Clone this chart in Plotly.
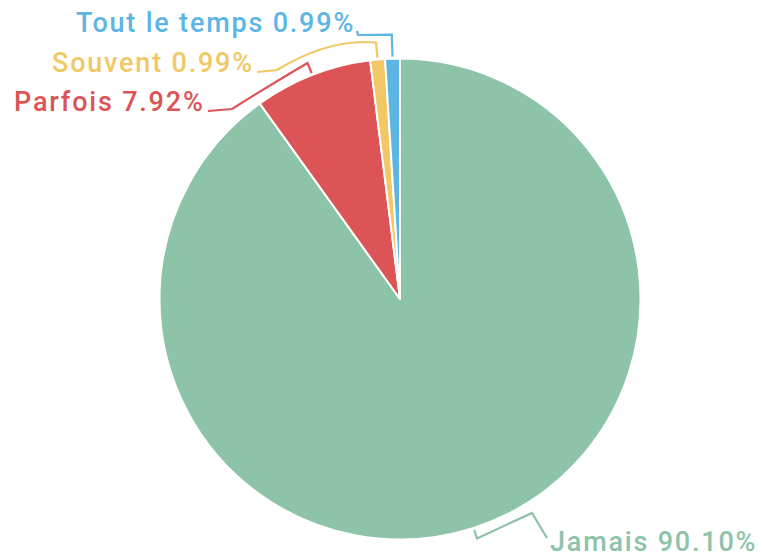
import math
import plotly.graph_objects as go

# data
labels = ["Jamais", "Parfois", "Souvent", "Tout le temps"]
counts = [91, 8, 1, 1]
colors = ["#8dc3a8", "#dc5456", "#f1c865", "#5db5e4"]

W, H = 762, 559
cx, cy, R = 400, 299, 240.5

# leader line / label placement (pixels): radial stub, bends, label anchor
label_layout = {
    "Jamais": dict(stub=9, bends="L 532 513 L 547 538", tx=548, ty=542, anchor="left"),
    "Parfois": dict(stub=11, bends="Q 275 82 232 109 L 208 111", tx=207, ty=102, anchor="right"),
    "Souvent": dict(stub=15, bends="Q 330 38 277 70 L 257 72", tx=256, ty=63, anchor="right"),
    "Tout le temps": dict(stub=22, bends="L 358 35 L 357 31", tx=357, ty=23, anchor="right"),
}

total = sum(counts)
pcts = [c / total * 100 for c in counts]

fig = go.Figure()
fig.add_trace(go.Pie(
    labels=labels, values=counts, sort=False, direction="clockwise", rotation=0,
    marker=dict(colors=colors, line=dict(color="white", width=2)),
    textinfo="none", hoverinfo="label+percent",
    domain=dict(x=[(cx - R) / W, (cx + R) / W], y=[1 - (cy + R) / H, 1 - (cy - R) / H]),
))


def to_paper(path):
    # convert a pixel svg path into paper coords
    out = []
    toks = path.split()
    i = 0
    while i < len(toks):
        t = toks[i]
        if t.isalpha():
            out.append(t)
            i += 1
        else:
            x, y = float(toks[i]), float(toks[i + 1])
            out.append(f"{x / W:.5f},{1 - y / H:.5f}")
            i += 2
    return " ".join(out)


start = 0.0
for lab, pct, col in zip(labels, pcts, colors):
    mid = math.radians((start + pct / 2) * 3.6)
    start += pct
    lay = label_layout[lab]
    x0, y0 = cx + (R + 2) * math.sin(mid), cy - (R + 2) * math.cos(mid)
    x1, y1 = cx + (R + 2 + lay["stub"]) * math.sin(mid), cy - (R + 2 + lay["stub"]) * math.cos(mid)
    path = f"M {x0:.1f} {y0:.1f} L {x1:.1f} {y1:.1f} " + lay["bends"]
    fig.add_shape(type="path", path=to_paper(path), xref="paper", yref="paper",
                  line=dict(color=col, width=2.2))
    fig.add_annotation(x=lay["tx"] / W, y=1 - lay["ty"] / H, xref="paper", yref="paper",
                       text=f"<span style='letter-spacing:1.8px'>{lab} {pct:.2f}%</span>",
                       showarrow=False, xanchor=lay["anchor"], yanchor="middle",
                       font=dict(family="Roboto", size=27, color=col, weight=500))

fig.update_layout(width=W, height=H, margin=dict(l=0, r=0, t=0, b=0),
                  showlegend=False, paper_bgcolor="white", plot_bgcolor="white")

fig.write_html("out.html", config={"displayModeBar": False},
               post_script="document.body.style.margin='0';document.body.style.overflow='hidden';")
